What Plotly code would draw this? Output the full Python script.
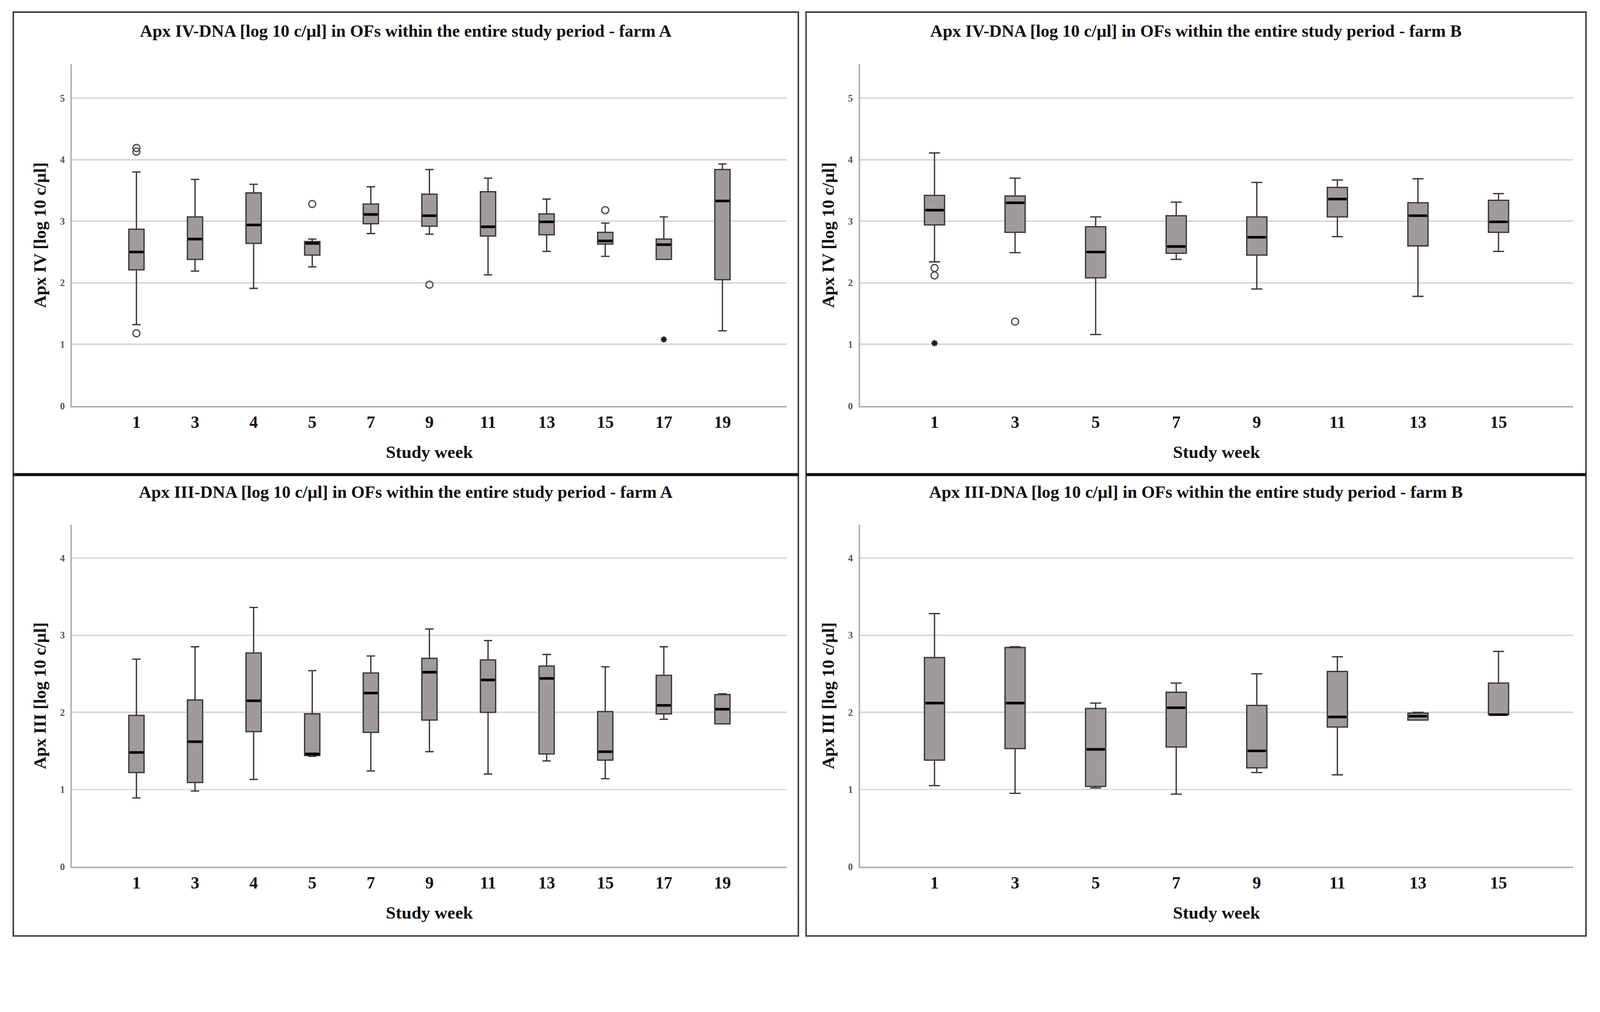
import plotly.graph_objects as go

# ---------------- data ----------------
weeks_A = [1, 3, 4, 5, 7, 9, 11, 13, 15, 17, 19]
weeks_B = [1, 3, 5, 7, 9, 11, 13, 15]

# Apx IV, farm A
iv_a_low = [1.32, 2.19, 1.91, 2.26, 2.80, 2.79, 2.13, 2.51, 2.43, 2.38, 1.22]
iv_a_q1 = [2.21, 2.38, 2.64, 2.45, 2.96, 2.92, 2.76, 2.78, 2.63, 2.38, 2.05]
iv_a_med = [2.50, 2.71, 2.94, 2.64, 3.11, 3.09, 2.91, 2.99, 2.68, 2.62, 3.33]
iv_a_q3 = [2.87, 3.07, 3.46, 2.67, 3.28, 3.44, 3.48, 3.12, 2.82, 2.71, 3.84]
iv_a_up = [3.80, 3.68, 3.60, 2.71, 3.56, 3.84, 3.70, 3.36, 2.97, 3.07, 3.93]
iv_a_out_weeks = [1, 1, 1, 5, 9, 15]
iv_a_out_vals = [1.18, 4.13, 4.19, 3.28, 1.97, 3.18]
iv_a_ext_weeks = [17]
iv_a_ext_vals = [1.08]

# Apx IV, farm B
iv_b_low = [2.34, 2.49, 1.16, 2.38, 1.90, 2.75, 1.78, 2.51]
iv_b_q1 = [2.94, 2.82, 2.08, 2.48, 2.45, 3.07, 2.60, 2.82]
iv_b_med = [3.18, 3.30, 2.50, 2.59, 2.74, 3.36, 3.09, 2.99]
iv_b_q3 = [3.42, 3.41, 2.91, 3.09, 3.07, 3.55, 3.30, 3.34]
iv_b_up = [4.11, 3.70, 3.07, 3.31, 3.63, 3.67, 3.69, 3.45]
iv_b_out_weeks = [1, 1, 3]
iv_b_out_vals = [2.24, 2.12, 1.37]
iv_b_ext_weeks = [1]
iv_b_ext_vals = [1.02]

# Apx III, farm A
iii_a_low = [0.89, 0.98, 1.13, 1.43, 1.24, 1.49, 1.20, 1.37, 1.14, 1.91, 1.85]
iii_a_q1 = [1.22, 1.09, 1.75, 1.44, 1.74, 1.90, 2.00, 1.46, 1.38, 1.98, 1.85]
iii_a_med = [1.48, 1.62, 2.15, 1.46, 2.25, 2.52, 2.42, 2.44, 1.49, 2.09, 2.04]
iii_a_q3 = [1.96, 2.16, 2.77, 1.98, 2.51, 2.70, 2.68, 2.60, 2.01, 2.48, 2.23]
iii_a_up = [2.69, 2.85, 3.36, 2.54, 2.73, 3.08, 2.93, 2.75, 2.59, 2.85, 2.24]

# Apx III, farm B
iii_b_low = [1.05, 0.95, 1.02, 0.94, 1.22, 1.19, 1.90, 1.97]
iii_b_q1 = [1.38, 1.53, 1.04, 1.55, 1.28, 1.81, 1.90, 1.97]
iii_b_med = [2.12, 2.12, 1.52, 2.06, 1.50, 1.94, 1.95, 1.97]
iii_b_q3 = [2.71, 2.84, 2.05, 2.26, 2.09, 2.53, 1.99, 2.38]
iii_b_up = [3.28, 2.85, 2.12, 2.38, 2.50, 2.72, 2.00, 2.79]

titles = [
    "Apx IV-DNA [log 10 c/µl] in OFs within the entire study period - farm A",
    "Apx IV-DNA [log 10 c/µl] in OFs within the entire study period - farm B",
    "Apx III-DNA [log 10 c/µl] in OFs within the entire study period - farm A",
    "Apx III-DNA [log 10 c/µl] in OFs within the entire study period - farm B",
]
y_titles = ["Apx IV [log 10 c/µl]", "Apx IV [log 10 c/µl]",
            "Apx III [log 10 c/µl]", "Apx III [log 10 c/µl]"]
x_title = "Study week"

# ---------------- styling ----------------
W, H = 4335, 2590
FONT = "Liberation Serif"
BOX_FILL = "#A19A9A"
BOX_LINE = "#383838"
GRID = "#D8D8D8"
AXIS = "#B2B2B2"

def px_x(p):
    return p / W

def px_y(p):
    return 1 - p / H

panels = [
    dict(weeks=weeks_A, low=iv_a_low, q1=iv_a_q1, med=iv_a_med, q3=iv_a_q3, up=iv_a_up,
         ow=iv_a_out_weeks, ov=iv_a_out_vals, ew=iv_a_ext_weeks, ev=iv_a_ext_vals,
         xd=(195, 2132), yd=(1106, 175), ymax=5.55, ytick=[0, 1, 2, 3, 4, 5], bw=0.26,
         pad=1.10, box=(36, 2163, 33, 1293)),
    dict(weeks=weeks_B, low=iv_b_low, q1=iv_b_q1, med=iv_b_med, q3=iv_b_q3, up=iv_b_up,
         ow=iv_b_out_weeks, ov=iv_b_out_vals, ew=iv_b_ext_weeks, ev=iv_b_ext_vals,
         xd=(2330, 4262), yd=(1106, 175), ymax=5.55, ytick=[0, 1, 2, 3, 4, 5], bw=0.25,
         pad=0.925, box=(2184, 4297, 33, 1293)),
    dict(weeks=weeks_A, low=iii_a_low, q1=iii_a_q1, med=iii_a_med, q3=iii_a_q3, up=iii_a_up,
         ow=[], ov=[], ew=[], ev=[],
         xd=(195, 2132), yd=(2361, 1430), ymax=4.43, ytick=[0, 1, 2, 3, 4], bw=0.26,
         pad=1.10, box=(36, 2163, 1293, 2550)),
    dict(weeks=weeks_B, low=iii_b_low, q1=iii_b_q1, med=iii_b_med, q3=iii_b_q3, up=iii_b_up,
         ow=[], ov=[], ew=[], ev=[],
         xd=(2330, 4262), yd=(2361, 1430), ymax=4.43, ytick=[0, 1, 2, 3, 4], bw=0.25,
         pad=0.925, box=(2184, 4297, 1293, 2550)),
]

fig = go.Figure()
layout_axes = {}
annotations = []
shapes = []

for k, p in enumerate(panels):
    suffix = "" if k == 0 else str(k + 1)
    xa, ya = "x" + suffix, "y" + suffix
    pos = list(range(len(p["weeks"])))
    idx = {w: i for i, w in enumerate(p["weeks"])}

    fig.add_trace(go.Box(
        x=pos, q1=p["q1"], median=p["med"], q3=p["q3"],
        lowerfence=p["low"], upperfence=p["up"],
        width=p["bw"], whiskerwidth=0.55, boxpoints=False,
        fillcolor=BOX_FILL, line=dict(color=BOX_LINE, width=3.5),
        xaxis=xa, yaxis=ya, showlegend=False, hoverinfo="skip",
    ))
    # thick median bars
    mx, my = [], []
    hw = p["bw"] / 2 - 0.012
    for i, m in zip(pos, p["med"]):
        mx += [i - hw, i + hw, None]
        my += [m, m, None]
    fig.add_trace(go.Scatter(x=mx, y=my, mode="lines",
                             line=dict(color="black", width=7),
                             xaxis=xa, yaxis=ya, showlegend=False, hoverinfo="skip"))
    if p["ow"]:
        fig.add_trace(go.Scatter(
            x=[idx[w] for w in p["ow"]], y=p["ov"], mode="markers",
            marker=dict(symbol="circle-open", size=19, color="#505050",
                        line=dict(width=3.5, color="#505050")),
            xaxis=xa, yaxis=ya, showlegend=False, hoverinfo="skip"))
    if p["ew"]:
        fig.add_trace(go.Scatter(
            x=[idx[w] for w in p["ew"]], y=p["ev"], mode="markers",
            marker=dict(symbol="asterisk-open", size=14, color="#1a1a1a",
                        line=dict(width=4, color="#1a1a1a")),
            xaxis=xa, yaxis=ya, showlegend=False, hoverinfo="skip"))

    n = len(p["weeks"])
    layout_axes["xaxis" + suffix] = dict(
        domain=[px_x(p["xd"][0]), px_x(p["xd"][1])],
        anchor=ya, range=[-p["pad"], n - 1 + p["pad"]],
        tickmode="array", tickvals=pos, ticktext=[str(w) for w in p["weeks"]],
        showgrid=False, zeroline=False, ticks="",
        showline=True, linecolor=AXIS, linewidth=4,
        tickfont=dict(family=FONT, size=46, color="#111111", weight="bold"),
        ticklabelstandoff=0,
        title=dict(text=x_title, standoff=40,
                   font=dict(family=FONT, size=48, color="#111111", weight="bold")),
    )
    layout_axes["yaxis" + suffix] = dict(
        domain=[px_y(p["yd"][0]), px_y(p["yd"][1])],
        anchor=xa, range=[0, p["ymax"]],
        tickmode="array", tickvals=p["ytick"], ticktext=[str(t) for t in p["ytick"]],
        showgrid=True, gridcolor=GRID, gridwidth=4, zeroline=False, ticks="",
        showline=True, linecolor=AXIS, linewidth=4,
        tickfont=dict(family=FONT, size=26, color="#555555", weight="bold"),
        ticklabelstandoff=10,
        title=dict(text=y_titles[k], standoff=24,
                   font=dict(family=FONT, size=47, color="#111111", weight="bold")),
    )

    bx0, bx1, by0, by1 = p["box"]
    shapes.append(dict(type="rect", xref="paper", yref="paper",
                       x0=px_x(bx0), x1=px_x(bx1), y0=px_y(by1), y1=px_y(by0),
                       line=dict(color="#3a3a3a", width=4), fillcolor="rgba(0,0,0,0)",
                       layer="above"))
    annotations.append(dict(text=titles[k], xref="paper", yref="paper",
                            x=px_x((bx0 + bx1) / 2), y=px_y(by0 + (50 if k < 2 else 47)),
                            xanchor="center", yanchor="middle", showarrow=False,
                            font=dict(family=FONT, size=47, color="#111111", weight="bold")))

# thick divider between upper and lower rows
for x0, x1 in [(36, 2163), (2184, 4297)]:
    shapes.append(dict(type="line", xref="paper", yref="paper",
                       x0=px_x(x0), x1=px_x(x1), y0=px_y(1293), y1=px_y(1293),
                       line=dict(color="#111111", width=8), layer="above"))

fig.update_layout(
    width=W, height=H,
    margin=dict(l=0, r=0, t=0, b=0),
    paper_bgcolor="white", plot_bgcolor="white",
    font=dict(family=FONT, color="#111111"),
    showlegend=False,
    annotations=annotations, shapes=shapes,
    **layout_axes,
)

# fit the fixed-size figure into the browser viewport (handles any device scaling)
fit_js = """
document.documentElement.style.margin='0';
document.body.style.margin='0';
document.body.style.overflow='hidden';
var gd = document.getElementById('{plot_id}');
var s = Math.min(window.innerWidth / %d, window.innerHeight / %d);
if (s > 0 && Math.abs(s - 1) > 0.002) {
  gd.style.transformOrigin = '0 0';
  gd.style.transform = 'scale(' + s + ')';
}
""" % (W, H)

fig.write_html("out.html", post_script=fit_js, config={"displayModeBar": False})
